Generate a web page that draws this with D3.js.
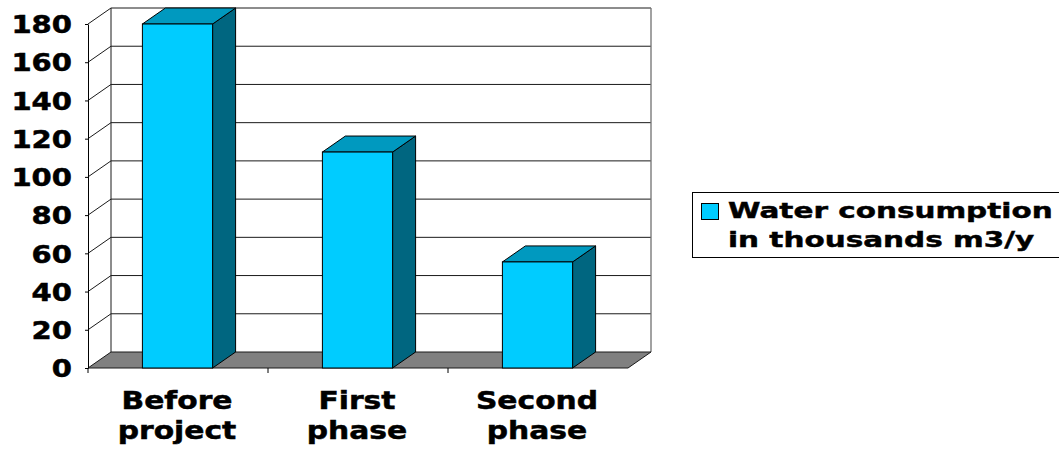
<!DOCTYPE html>
<html><head><meta charset="utf-8">
<script src="https://cdn.jsdelivr.net/npm/d3@7"></script>
<style>html,body{margin:0;padding:0;background:#fff;overflow:hidden}svg{display:block}</style>
</head><body>
<script>
// ---- data ----
const categories = ["Before project", "First phase", "Second phase"];
const categoryLines = [["Before", "project"], ["First", "phase"], ["Second", "phase"]];
const values = [180, 113, 55.5];
const yTicks = [0, 20, 40, 60, 80, 100, 120, 140, 160, 180];
const legendLines = ["Water consumption", "in thousands m3/y"];

// ---- layout ----
const W = 1059, H = 449;
const X0 = 88, X1 = 628, YB = 368, YT = 24;
const DX = 23, DY = -16;
const FONT = "'DejaVu Sans', Verdana, sans-serif";
const colFront = "#00CCFF", colTop = "#0099BF", colSide = "#006680";

const svg = d3.select("body").append("svg").attr("width", W).attr("height", H);

const x = d3.scaleBand().domain(categories).range([X0, X1]).padding(0);
const y = d3.scaleLinear().domain([0, 180]).range([YB, YT]);

const g = svg.append("g");

// back wall gridlines
g.selectAll("line.grid").data(yTicks.filter(t => t > 0)).join("line")
  .attr("x1", X0 + DX).attr("x2", X1 + DX)
  .attr("y1", d => y(d) + DY).attr("y2", d => y(d) + DY)
  .attr("stroke", "#1a1a1a").attr("stroke-width", 1);

// left wall diagonals
g.selectAll("line.diag").data(yTicks.filter(t => t > 0)).join("line")
  .attr("x1", X0).attr("x2", X0 + DX)
  .attr("y1", d => y(d)).attr("y2", d => y(d) + DY)
  .attr("stroke", "#1a1a1a").attr("stroke-width", 1);

// back wall left vertical & right edge
g.append("line").attr("x1", X0 + DX).attr("x2", X0 + DX)
  .attr("y1", y(0) + DY).attr("y2", y(180) + DY).attr("stroke", "#1a1a1a");
g.append("line").attr("x1", X1 + DX).attr("x2", X1 + DX)
  .attr("y1", y(0) + DY).attr("y2", y(180) + DY).attr("stroke", "#707070").attr("stroke-width", 1.3);

// floor
g.append("path")
  .attr("d", `M${X0},${y(0)}L${X1},${y(0)}L${X1 + DX},${y(0) + DY}L${X0 + DX},${y(0) + DY}Z`)
  .attr("fill", "#808080").attr("stroke", "#1a1a1a").attr("stroke-width", 1);

// front axis
const axis = d3.axisLeft(y).tickValues(yTicks).tickSize(3).tickSizeOuter(0);
const ax = svg.append("g").attr("transform", `translate(${X0},0)`).call(axis);
ax.select(".domain").attr("stroke", "#000");
ax.selectAll(".tick line").attr("stroke", "#000");
ax.selectAll(".tick text")
  .attr("x", null).attr("dy", null)
  .attr("transform", "translate(-16,8.7) scale(1.21,1)")
  .attr("text-anchor", "end")
  .attr("font-family", FONT).attr("font-weight", "bold").attr("font-size", 24).attr("fill", "#000")
  .attr("stroke", "#000").attr("stroke-width", 0.5);

// category boundary ticks (no tick at the far right end)
const bounds = categories.map(c => x(c));
svg.selectAll("line.ctick").data(bounds).join("line")
  .attr("x1", d => d).attr("x2", d => d).attr("y1", YB).attr("y2", YB + 5)
  .attr("stroke", "#000");

// bars
const bw = x.bandwidth() * 0.39;
const bd = 23, bdy = -16;
const bars = svg.selectAll("g.bar").data(categories).join("g").attr("class", "bar");
bars.each(function (c, i) {
  const gb = d3.select(this);
  const xl = x(c) + (x.bandwidth() - bw) / 2 - 0.5;
  const xr = xl + bw;
  const yt = y(values[i]), yb = y(0);
  gb.append("path").attr("d", `M${xr},${yb}L${xr + bd},${yb + bdy}L${xr + bd},${yt + bdy}L${xr},${yt}Z`)
    .attr("fill", colSide).attr("stroke", "#000").attr("stroke-width", 1).attr("stroke-linejoin", "round");
  gb.append("path").attr("d", `M${xl},${yt}L${xr},${yt}L${xr + bd},${yt + bdy}L${xl + bd},${yt + bdy}Z`)
    .attr("fill", colTop).attr("stroke", "#000").attr("stroke-width", 1).attr("stroke-linejoin", "round");
  gb.append("rect").attr("x", xl).attr("y", yt).attr("width", bw).attr("height", yb - yt)
    .attr("fill", colFront).attr("stroke", "#000").attr("stroke-width", 1);
});

// category labels
svg.selectAll("g.clabel").data(categories).join("g").attr("class", "clabel")
  .attr("transform", c => `translate(${x(c) + x.bandwidth() / 2 - 1},409) scale(1.19,1)`)
  .each(function (c, i) {
    const t = d3.select(this).append("text").attr("text-anchor", "middle")
      .attr("font-family", FONT).attr("font-weight", "bold").attr("font-size", 25).attr("fill", "#000")
      .attr("stroke", "#000").attr("stroke-width", 0.5);
    categoryLines[i].forEach((ln, k) => t.append("tspan").attr("x", 0).attr("y", k * 30).text(ln));
  });

// legend
const lg = svg.append("g");
lg.append("rect").attr("x", 692.5).attr("y", 192.5).attr("width", 400).attr("height", 65)
  .attr("fill", "#fff").attr("stroke", "#000").attr("stroke-width", 1);
lg.append("rect").attr("x", 701.5).attr("y", 203.5).attr("width", 17).attr("height", 16)
  .attr("fill", colFront).attr("stroke", "#000").attr("stroke-width", 1);
legendLines.forEach((ln, k) => {
  lg.append("text").attr("transform", `translate(728,${217.5 + k * 29.5}) scale(1.34,1)`)
    .attr("font-family", FONT).attr("font-weight", "bold").attr("font-size", 22).attr("fill", "#000")
    .attr("stroke", "#000").attr("stroke-width", 0.45)
    .text(ln);
});
</script>
</body></html>
